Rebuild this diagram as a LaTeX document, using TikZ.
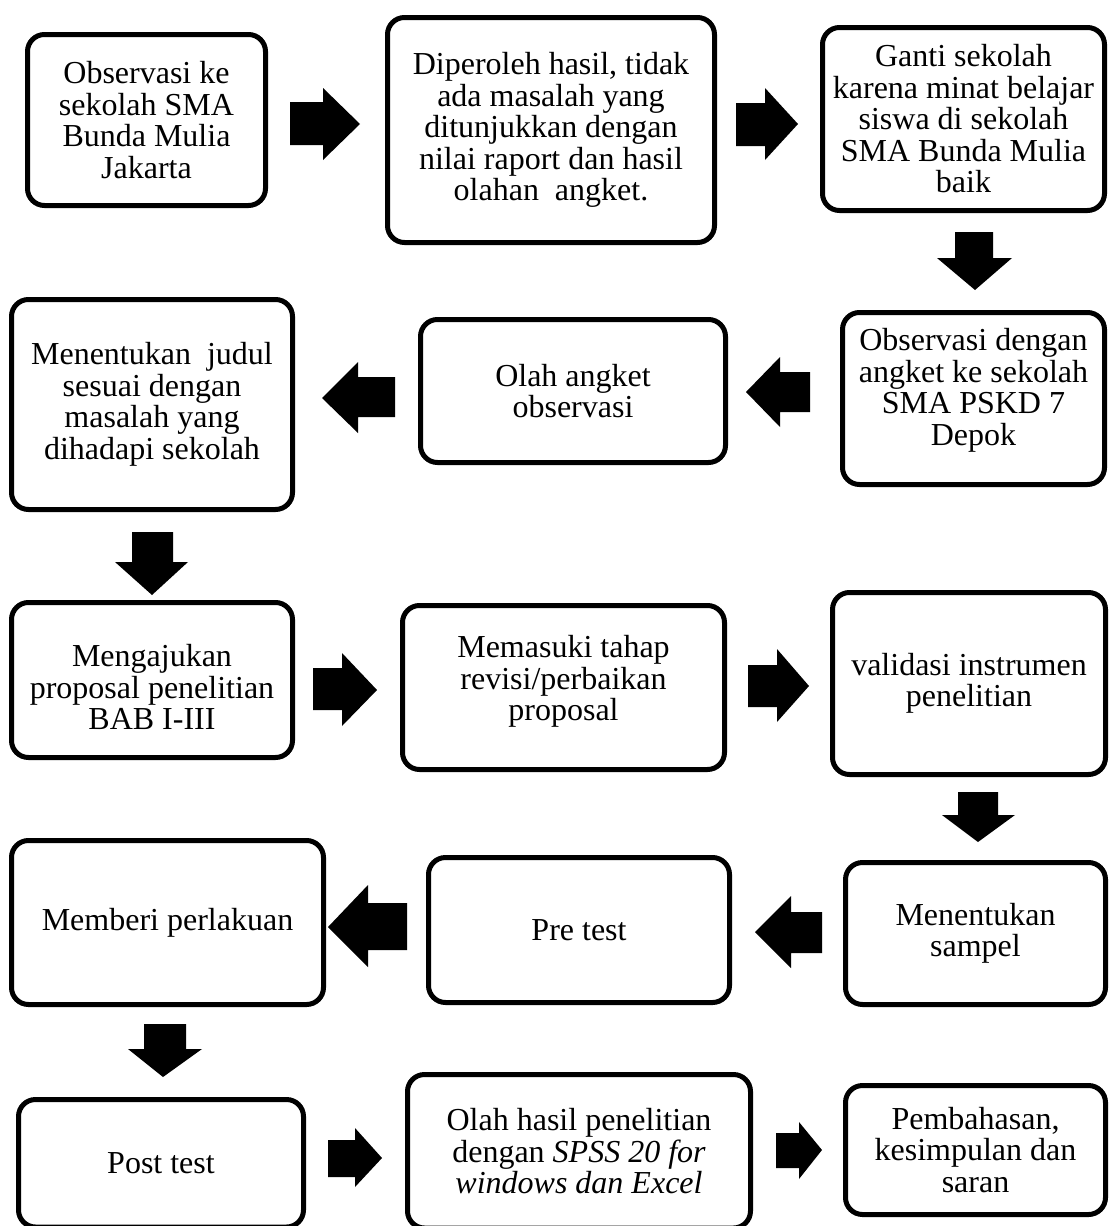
\documentclass[tikz,border=0pt]{standalone}
\usepackage{fontspec}
\setmainfont{Liberation Serif}
\usetikzlibrary{fit}
\begin{document}
\begin{tikzpicture}[x=0.5pt,y=-0.5pt,
  box/.style={draw=black, line width=2.5pt, rounded corners=8.5pt, inner sep=0pt},
  txt/.style={align=center, font=\fontsize{16pt}{15.75pt}\selectfont, inner sep=0pt},
  barrow/.style={fill=black}]
\useasboundingbox[fill=white] (0,0) rectangle (1109,1226);

% boxes
\node[box, fit={(27.5,34.5)(265.5,205.5)}] (A) {};
\node[box, fit={(387.5,17.5)(714.5,242.5)}] (B) {};
\node[box, fit={(822.5,27.5)(1104.5,210.5)}] (C) {};
\node[box, fit={(842.5,312.5)(1104.5,484.5)}] (D) {};
\node[box, fit={(420.5,319.5)(725.5,462.5)}] (E) {};
\node[box, fit={(11.5,299.5)(292.5,509.5)}] (F) {};
\node[box, fit={(11.5,602.5)(292.5,757.5)}] (G) {};
\node[box, fit={(402.5,605.5)(724.5,769.5)}] (H) {};
\node[box, fit={(832.5,592.5)(1105.5,774.5)}] (I) {};
\node[box, fit={(845.5,862.5)(1105.5,1004.5)}] (J) {};
\node[box, fit={(428.5,857.5)(729.5,1002.5)}] (K) {};
\node[box, fit={(11.5,840.5)(323.5,1004.5)}] (L) {};
\node[box, fit={(18.5,1099.5)(303.5,1227)}] (M) {};
\node[box, fit={(407.5,1074.5)(750.5,1228)}] (N) {};
\node[box, fit={(845.5,1085.5)(1105.5,1214.5)}] (O) {};

% texts
\node[txt] (At) at (A.center) {Observasi ke\\sekolah SMA\\Bunda Mulia\\Jakarta};
\node[txt] (Bt) at (B.center) {Diperoleh hasil, tidak\\ada masalah yang\\ditunjukkan dengan\\nilai raport dan hasil\\olahan\ \ angket.};
\node[txt] (Ct) at (C.center) {Ganti sekolah\\karena minat belajar\\siswa di sekolah\\SMA Bunda Mulia\\baik};
\node[txt] (Dt) at ([yshift=4pt]D.center) {Observasi dengan\\angket ke sekolah\\SMA PSKD 7\\Depok};
\node[txt] (Et) at (E.center) {Olah angket\\observasi};
\node[txt] (Ft) at (F.center) {Menentukan\ \ judul\\sesuai dengan\\masalah yang\\dihadapi sekolah};
\node[txt] (Gt) at ([yshift=-3.5pt]G.center) {Mengajukan\\proposal penelitian\\BAB I-III};
\node[txt] (Ht) at ([yshift=3pt]H.center) {Memasuki tahap\\revisi/perbaikan\\proposal};
\node[txt] (It) at (I.center) {validasi instrumen\\penelitian};
\node[txt] (Jt) at (J.center) {Menentukan\\sampel};
\node[txt] (Kt) at (K.center) {Pre test};
\node[txt] (Lt) at (L.center) {Memberi perlakuan};
\node[txt] (Mt) at (M.center) {Post test};
\node[txt] (Nt) at (N.center) {Olah hasil penelitian\\dengan \textit{SPSS 20 for}\\\textit{windows dan Excel}};
\node[txt] (Ot) at (O.center) {Pembahasan,\\kesimpulan dan\\saran};

% block arrows
% A -> B
\fill[barrow] (290,102) -- (323,102) -- (323,88) -- (360,124) -- (323,160) -- (323,145) -- (290,145) -- cycle;
% B -> C
\fill[barrow] (736,103) -- (765,103) -- (765,88) -- (798,124) -- (765,160) -- (765,146) -- (736,146) -- cycle;
% C -> D
\fill[barrow] (955,232) -- (993,232) -- (993,258) -- (1012,258) -- (975,290) -- (937,258) -- (955,258) -- cycle;
% D -> E
\fill[barrow] (810,372) -- (780,372) -- (780,357) -- (746,392) -- (780,427) -- (780,412) -- (810,412) -- cycle;
% E -> F
\fill[barrow] (395,377) -- (358,377) -- (358,362) -- (322,398) -- (358,433) -- (358,417) -- (395,417) -- cycle;
% F -> G
\fill[barrow] (132,532) -- (173,532) -- (173,562) -- (188,562) -- (152,595) -- (115,562) -- (132,562) -- cycle;
% G -> H
\fill[barrow] (313,668) -- (342,668) -- (342,653) -- (377,690) -- (342,726) -- (342,710) -- (313,710) -- cycle;
% H -> I
\fill[barrow] (748,665) -- (777,665) -- (777,649) -- (809,686) -- (777,722) -- (777,707) -- (748,707) -- cycle;
% I -> J
\fill[barrow] (958,792) -- (998,792) -- (998,815) -- (1015,815) -- (978,842) -- (942,815) -- (958,815) -- cycle;
% J -> K
\fill[barrow] (822,912) -- (791,912) -- (791,896) -- (755,932) -- (791,968) -- (791,953) -- (822,953) -- cycle;
% K -> L
\fill[barrow] (407,903) -- (368,903) -- (368,885) -- (328,927) -- (368,967) -- (368,950) -- (407,950) -- cycle;
% L -> M
\fill[barrow] (144,1024) -- (186,1024) -- (186,1049) -- (202,1049) -- (163,1077) -- (128,1049) -- (144,1049) -- cycle;
% M -> N
\fill[barrow] (328,1140) -- (355,1140) -- (355,1128) -- (382,1158) -- (355,1187) -- (355,1177) -- (328,1177) -- cycle;
% N -> O
\fill[barrow] (776,1133) -- (799,1133) -- (799,1122) -- (822,1150) -- (799,1179) -- (799,1168) -- (776,1168) -- cycle;
\end{tikzpicture}
\end{document}
